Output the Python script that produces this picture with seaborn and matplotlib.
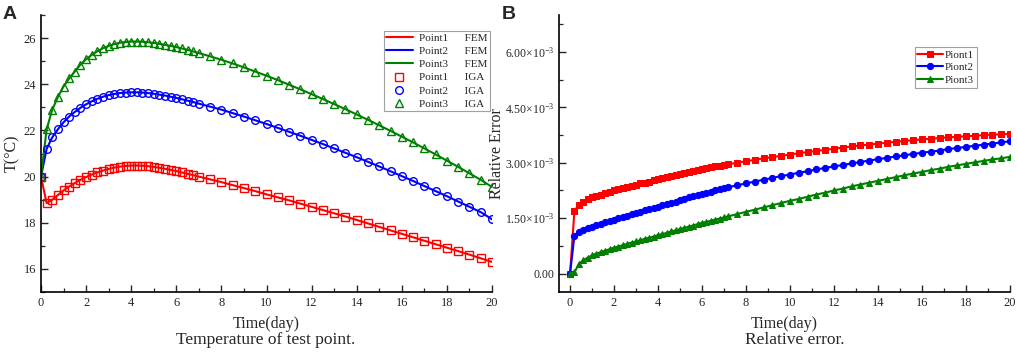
import numpy as np
import pandas as pd
import matplotlib
matplotlib.use("Agg")
import matplotlib.pyplot as plt
import seaborn as sns
from matplotlib.ticker import MultipleLocator, FuncFormatter

# ---- panel A: temperature at the test points (deg C) ----
time_a = np.round(np.concatenate([np.arange(0, 7.01, 0.25), np.arange(7.5, 20.01, 0.5)]), 2)

point1_temp = [20.00, 18.85, 19.00, 19.20, 19.40, 19.57, 19.72, 19.86, 19.98, 20.09,
               20.18, 20.26, 20.33, 20.39, 20.43, 20.46, 20.48, 20.48, 20.47, 20.45,
               20.42, 20.38, 20.34, 20.29, 20.24, 20.18, 20.12, 20.06, 20.00,
               19.88, 19.76, 19.63, 19.50, 19.37, 19.23, 19.10, 18.97, 18.83, 18.69,
               18.55, 18.41, 18.27, 18.12, 17.97, 17.82, 17.67, 17.52, 17.37, 17.22,
               17.07, 16.92, 16.77, 16.62, 16.46, 16.30]
point2_temp = [20.00, 21.20, 21.70, 22.05, 22.35, 22.60, 22.80, 22.98, 23.13, 23.26,
               23.37, 23.46, 23.53, 23.58, 23.62, 23.64, 23.65, 23.65, 23.64, 23.62,
               23.59, 23.55, 23.51, 23.46, 23.41, 23.35, 23.29, 23.23, 23.16,
               23.03, 22.90, 22.75, 22.60, 22.44, 22.28, 22.11, 21.94, 21.77, 21.59,
               21.41, 21.22, 21.03, 20.84, 20.64, 20.44, 20.23, 20.02, 19.81, 19.59,
               19.37, 19.15, 18.92, 18.69, 18.46, 18.15]
point3_temp = [20.00, 22.05, 22.90, 23.45, 23.90, 24.25, 24.55, 24.85, 25.08, 25.27,
               25.43, 25.56, 25.66, 25.74, 25.80, 25.83, 25.85, 25.85, 25.84, 25.82,
               25.79, 25.75, 25.71, 25.66, 25.61, 25.55, 25.49, 25.42, 25.35,
               25.21, 25.06, 24.90, 24.73, 24.55, 24.37, 24.18, 23.98, 23.78, 23.57,
               23.36, 23.14, 22.92, 22.69, 22.46, 22.22, 21.98, 21.73, 21.48, 21.22,
               20.96, 20.69, 20.42, 20.14, 19.86, 19.55]

# ---- panel B: relative error (x 1e-3) ----
time_b = np.round(np.concatenate([np.arange(0, 7.21, 0.2), np.arange(7.6, 20.01, 0.4)]), 2)

piont1_err = [0.00, 1.70, 1.86, 1.95, 2.01, 2.06, 2.10, 2.14, 2.18, 2.22,
              2.26, 2.29, 2.32, 2.35, 2.38, 2.41, 2.44, 2.46, 2.49, 2.52,
              2.55, 2.58, 2.61, 2.64, 2.67, 2.70, 2.72, 2.75, 2.78, 2.81,
              2.84, 2.86, 2.88, 2.90, 2.92, 2.94, 2.96,
              3.00, 3.04, 3.08, 3.12, 3.15, 3.19, 3.22, 3.26, 3.29, 3.32,
              3.35, 3.38, 3.41, 3.44, 3.47, 3.49, 3.52, 3.54, 3.57, 3.59,
              3.61, 3.63, 3.65, 3.67, 3.69, 3.70, 3.72, 3.73, 3.75, 3.76,
              3.77, 3.78]
piont2_err = [0.00, 1.03, 1.12, 1.18, 1.23, 1.27, 1.31, 1.35, 1.39, 1.43,
              1.46, 1.50, 1.53, 1.57, 1.60, 1.64, 1.67, 1.71, 1.74, 1.78,
              1.81, 1.85, 1.88, 1.92, 1.95, 1.99, 2.02, 2.06, 2.09, 2.13,
              2.16, 2.19, 2.22, 2.25, 2.28, 2.31, 2.34,
              2.39, 2.44, 2.49, 2.54, 2.59, 2.64, 2.68, 2.73, 2.77, 2.82,
              2.86, 2.90, 2.94, 2.98, 3.02, 3.06, 3.10, 3.13, 3.17, 3.20,
              3.24, 3.27, 3.30, 3.33, 3.37, 3.40, 3.43, 3.46, 3.49, 3.52,
              3.55, 3.58]
piont3_err = [0.00, 0.03, 0.26, 0.36, 0.43, 0.49, 0.54, 0.58, 0.62, 0.66,
              0.70, 0.73, 0.77, 0.80, 0.84, 0.87, 0.90, 0.94, 0.97, 1.00,
              1.04, 1.07, 1.10, 1.14, 1.17, 1.20, 1.24, 1.27, 1.30, 1.34,
              1.37, 1.40, 1.43, 1.46, 1.49, 1.52, 1.55,
              1.61, 1.67, 1.73, 1.79, 1.85, 1.91, 1.97, 2.02, 2.08, 2.14,
              2.19, 2.25, 2.30, 2.36, 2.41, 2.46, 2.51, 2.56, 2.61, 2.66,
              2.71, 2.75, 2.80, 2.84, 2.89, 2.93, 2.97, 3.01, 3.05, 3.09,
              3.12, 3.16]

colors = ["#ff0000", "#0000ff", "#008000"]

sns.set_style("ticks")
plt.rcParams["font.family"] = ["Liberation Serif", "DejaVu Serif"]
plt.rcParams["mathtext.fontset"] = "custom"
plt.rcParams["mathtext.rm"] = "Liberation Serif"
plt.rcParams["mathtext.it"] = "Liberation Serif:italic"

fig = plt.figure(figsize=(10.17, 3.59), dpi=100)
ax1 = fig.add_axes([0.0403, 0.1866, 0.4435, 0.7716])
ax2 = fig.add_axes([0.5497, 0.1866, 0.4434, 0.7716])

temp_df = pd.DataFrame({"time": time_a, "Point1": point1_temp,
                        "Point2": point2_temp, "Point3": point3_temp})
err_df = pd.DataFrame({"time": time_b, "Piont1": np.array(piont1_err) * 1e-3,
                       "Piont2": np.array(piont2_err) * 1e-3,
                       "Piont3": np.array(piont3_err) * 1e-3})

# panel A: FEM lines, then IGA open markers
for name, c in zip(["Point1", "Point2", "Point3"], colors):
    sns.lineplot(data=temp_df, x="time", y=name, color=c, lw=1.5, ax=ax1,
                 label=f"{name}      FEM")
for name, c, m in zip(["Point1", "Point2", "Point3"], colors, ["s", "o", "^"]):
    sns.lineplot(data=temp_df, x="time", y=name, color=c, ax=ax1, linestyle="",
                 marker=m, markersize=5.5, markerfacecolor="none",
                 markeredgecolor=c, markeredgewidth=1.0,
                 label=f"{name}      IGA")

ax1.set_xlim(0, 20)
ax1.set_ylim(15, 27)
ax1.xaxis.set_major_locator(MultipleLocator(2))
ax1.xaxis.set_minor_locator(MultipleLocator(1))
ax1.yaxis.set_major_locator(MultipleLocator(2))
ax1.yaxis.set_minor_locator(MultipleLocator(1))
ax1.set_xlabel("Time(day)", fontsize=11.5, labelpad=5)
ax1.set_ylabel("T(°C)", fontsize=11.5, labelpad=2.5)
leg1 = ax1.legend(loc="upper right", bbox_to_anchor=(0.9956, 0.942), fontsize=8,
                  frameon=True, fancybox=False, edgecolor="#888888",
                  handlelength=2.4, handletextpad=0.6, labelspacing=0.3,
                  borderpad=0.2, borderaxespad=0)
leg1.get_frame().set_linewidth(0.8)

# panel B: relative error, line + filled markers
for name, c, m in zip(["Piont1", "Piont2", "Piont3"], colors, ["s", "o", "^"]):
    sns.lineplot(data=err_df, x="time", y=name, color=c, lw=1.5, ax=ax2,
                 marker=m, markersize=4.5, markeredgecolor=c, label=name)

ax2.set_xlim(-0.5, 20)
ax2.set_ylim(-0.5e-3, 7e-3)
ax2.xaxis.set_major_locator(MultipleLocator(2))
ax2.xaxis.set_minor_locator(MultipleLocator(1))
ax2.yaxis.set_major_locator(MultipleLocator(1.5e-3))
ax2.yaxis.set_minor_locator(MultipleLocator(0.75e-3))


def err_fmt(v, pos):
    if abs(v) < 1e-9:
        return "0.00"
    return f"{v * 1e3:.2f}" + r"$\times10^{-3}$"


ax2.yaxis.set_major_formatter(FuncFormatter(err_fmt))
ax2.set_xlabel("Time(day)", fontsize=11.5, labelpad=5)
ax2.set_ylabel("Relative Error", fontsize=11.5, labelpad=0)
leg2 = ax2.legend(loc="upper right", bbox_to_anchor=(0.927, 0.884), fontsize=8,
                  frameon=True, fancybox=False, edgecolor="#888888",
                  handlelength=2.3, handletextpad=0.2, labelspacing=0.25,
                  borderpad=0.25, borderaxespad=0)
leg2.get_frame().set_linewidth(0.8)

for ax in (ax1, ax2):
    sns.despine(ax=ax)
    for s in ("left", "bottom"):
        ax.spines[s].set_linewidth(1.2)
        ax.spines[s].set_color("black")
    ax.tick_params(which="major", direction="in", length=5, width=1.0,
                   labelsize=9, pad=3.5)
    ax.tick_params(which="minor", direction="in", length=3, width=0.9)
ax2.tick_params(axis="y", labelsize=8.5)

fig.text(0.002, 0.947, "A", fontsize=14, fontweight="bold", va="baseline",
         family="Liberation Sans")
fig.text(0.4936, 0.947, "B", fontsize=14, fontweight="bold", va="baseline",
         family="Liberation Sans")
fig.text(0.261, 0.053, "Temperature of test point.", fontsize=12.5, ha="center", va="center")
fig.text(0.781, 0.053, "Relative error.", fontsize=12.5, ha="center", va="center")

fig.savefig("out.png", dpi=100)
